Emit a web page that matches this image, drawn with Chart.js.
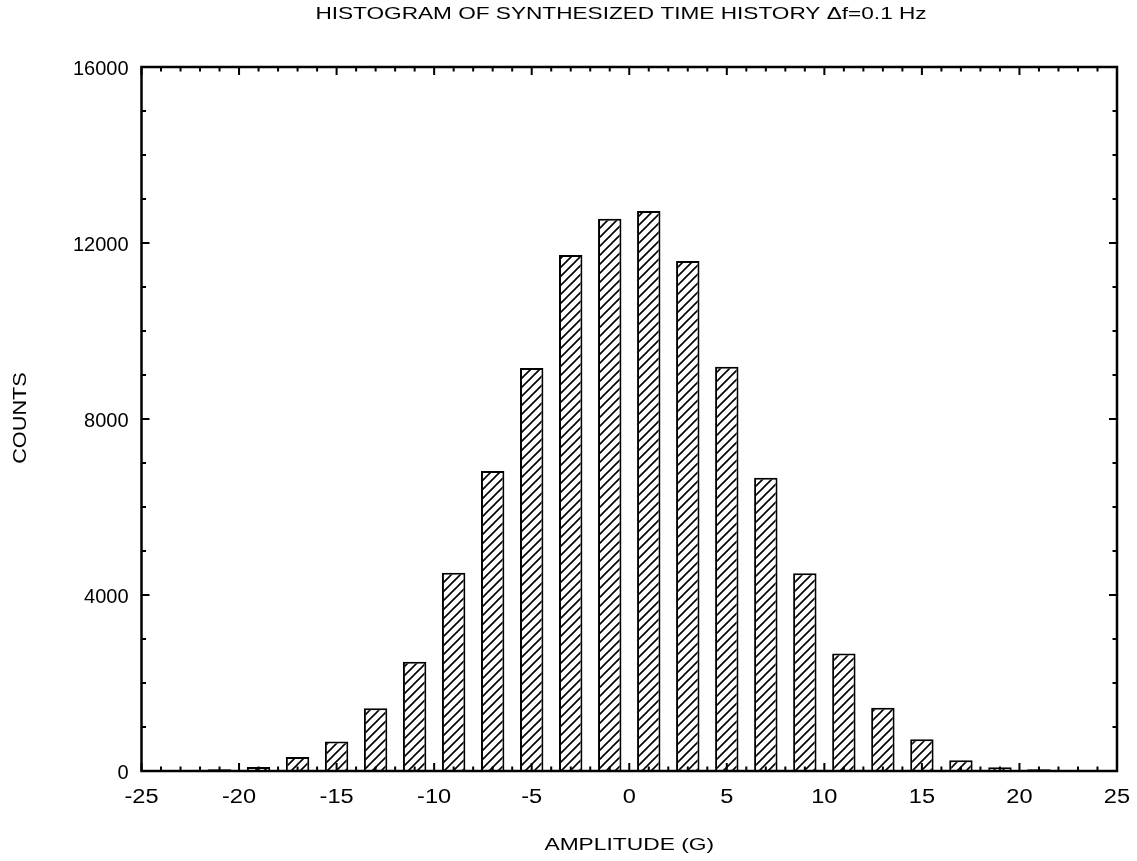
<!DOCTYPE html>
<html>
<head>
<meta charset="utf-8">
<title>Histogram of synthesized time history</title>
<script src="https://cdn.jsdelivr.net/npm/chart.js@4.4.1/dist/chart.umd.min.js"></script>
<style>
  html, body { margin: 0; padding: 0; background: #ffffff; }
  #wrap { width: 1137px; height: 861px; }
  canvas { display: block; }
</style>
</head>
<body>
<div id="wrap"><canvas id="histo" width="1137" height="861"></canvas></div>
<script>
// Bin centres (G) and the number of samples falling in each bin
const binCenters = [-23, -21, -19, -17, -15, -13, -11, -9, -7, -5, -3, -1,
                    1, 3, 5, 7, 9, 11, 13, 15, 17, 19, 21];
const counts = [15, 40, 90, 320, 670, 1425, 2485, 4505, 6820, 9160, 11730, 12550,
                12730, 11590, 9185, 6665, 4495, 2670, 1435, 720, 245, 85, 40];

// Axis definitions
const xTickValues = [-25, -20, -15, -10, -5, 0, 5, 10, 15, 20, 25];
const yTickValues = [0, 4000, 8000, 12000, 16000];
const xMinorStep = 1;
const yMinorStep = 1000;

const chartTitle = 'HISTOGRAM OF SYNTHESIZED TIME HISTORY \u0394f=0.1 Hz';
const xAxisTitle = 'AMPLITUDE (G)';
const yAxisTitle = 'COUNTS';

const FONT = '"Liberation Sans", Arial, Helvetica, sans-serif';

// Diagonal "/" hatch used to fill the bars
function makeHatch() {
  const n = 9;
  const c = document.createElement('canvas');
  c.width = n; c.height = n;
  const g = c.getContext('2d');
  g.fillStyle = '#ffffff';
  g.fillRect(0, 0, n, n);
  g.strokeStyle = '#000000';
  g.lineWidth = 1.6;
  g.beginPath();
  g.moveTo(-1, n + 1); g.lineTo(n + 1, -1);
  g.moveTo(-2, 2); g.lineTo(2, -2);
  g.moveTo(n - 2, n + 2); g.lineTo(n + 2, n - 2);
  g.stroke();
  return g.createPattern(c, 'repeat');
}

// Text drawn with an optional horizontal stretch
function wideText(ctx, text, x, y, opt) {
  ctx.save();
  ctx.translate(x, y);
  if (opt.rotate) ctx.rotate(opt.rotate);
  ctx.scale(opt.sx || 1, 1);
  ctx.font = opt.font;
  ctx.fillStyle = '#000000';
  ctx.textAlign = opt.align || 'center';
  ctx.textBaseline = 'alphabetic';
  ctx.fillText(text, 0, 0);
  ctx.restore();
}

const framePlugin = {
  id: 'frameAndLabels',
  afterDraw(chart) {
    const { ctx, chartArea: a, scales } = chart;
    const xs = scales.x, ys = scales.y;

    ctx.save();
    ctx.strokeStyle = '#000000';
    ctx.lineCap = 'butt';

    // inward tick marks on all four sides
    ctx.lineWidth = 2;
    ctx.beginPath();
    for (let v = xs.min; v <= xs.max + 1e-9; v += xMinorStep) {
      const major = xTickValues.includes(v);
      const len = major ? 8 : 4.5;
      const px = xs.getPixelForValue(v);
      ctx.moveTo(px, a.bottom); ctx.lineTo(px, a.bottom - len);
      ctx.moveTo(px, a.top); ctx.lineTo(px, a.top + len);
    }
    for (let v = ys.min; v <= ys.max + 1e-9; v += yMinorStep) {
      const major = yTickValues.includes(v);
      const len = major ? 8 : 4.5;
      const py = ys.getPixelForValue(v);
      ctx.moveTo(a.left, py); ctx.lineTo(a.left + len, py);
      ctx.moveTo(a.right, py); ctx.lineTo(a.right - len, py);
    }
    ctx.stroke();

    // plot frame
    ctx.lineWidth = 2.5;
    ctx.strokeRect(a.left, a.top, a.right - a.left, a.bottom - a.top);
    ctx.restore();

    // tick labels
    xs.ticks.forEach(t => {
      wideText(ctx, String(t.value), xs.getPixelForValue(t.value), a.bottom + 32,
               { font: '20px ' + FONT, sx: 1.18, align: 'center' });
    });
    ys.ticks.forEach(t => {
      wideText(ctx, String(t.value), a.left - 13, ys.getPixelForValue(t.value) + 8,
               { font: '20px ' + FONT, sx: 1.0, align: 'right' });
    });

    // titles
    wideText(ctx, chartTitle, 621, 19, { font: '17px ' + FONT, sx: 1.33, align: 'center' });
    wideText(ctx, xAxisTitle, (a.left + a.right) / 2, 850, { font: '17px ' + FONT, sx: 1.34, align: 'center' });
    wideText(ctx, yAxisTitle, 26, 418, { font: '17.5px ' + FONT, sx: 1.24, align: 'center', rotate: -Math.PI / 2 });
  }
};

const ctx = document.getElementById('histo').getContext('2d');
new Chart(ctx, {
  type: 'bar',
  data: {
    datasets: [{
      data: binCenters.map((x, i) => ({ x: x, y: counts[i] })),
      backgroundColor: makeHatch(),
      borderColor: '#000000',
      borderWidth: 2,
      barPercentage: 0.6,
      categoryPercentage: 1.0
    }]
  },
  options: {
    responsive: false,
    devicePixelRatio: 1,
    animation: false,
    layout: { padding: { top: 67, right: 20, bottom: 0, left: 0 } },
    plugins: {
      legend: { display: false },
      tooltip: { enabled: false },
      title: { display: false }
    },
    scales: {
      x: {
        type: 'linear',
        min: -25,
        max: 25,
        offset: false,
        grid: { display: false, drawTicks: false, offset: false },
        border: { display: false },
        ticks: { display: false },
        afterBuildTicks: s => { s.ticks = xTickValues.map(v => ({ value: v })); },
        afterFit: s => { s.height = 90; }
      },
      y: {
        type: 'linear',
        min: 0,
        max: 16000,
        grid: { display: false, drawTicks: false },
        border: { display: false },
        ticks: { display: false },
        afterBuildTicks: s => { s.ticks = yTickValues.map(v => ({ value: v })); },
        afterFit: s => { s.width = 141.5; }
      }
    }
  },
  plugins: [framePlugin]
});
</script>
</body>
</html>
